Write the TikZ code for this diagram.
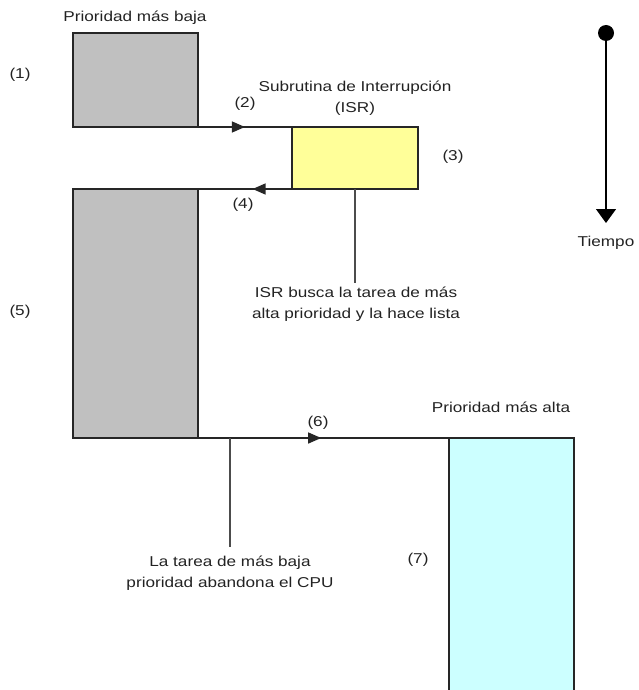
\documentclass[tikz,border=0pt]{standalone}
\usepackage{fontspec}
\setmainfont{Liberation Sans}[FakeStretch=1.2]
\usetikzlibrary{arrows.meta,decorations.markings}
\definecolor{grayfill}{HTML}{C0C0C0}
\definecolor{isrfill}{HTML}{FFFF99}
\definecolor{highfill}{HTML}{CCFFFF}
\definecolor{txt}{HTML}{222222}
\tikzset{
  task/.style={draw=black!85, line width=1.4pt, rectangle, inner sep=0pt, outer sep=0pt, anchor=north west},
  lbl/.style={text=txt, font=\fontsize{14.3}{21}\selectfont, inner sep=0pt, align=center},
  flowline/.style={line width=1.4pt, draw=black!85},
  midarrow/.style={flowline, postaction={decorate}, decoration={markings, mark=at position #1 with {\arrow{Triangle[length=13pt,width=11pt]}}}},
  leader/.style={line width=1.4pt, draw=black!70}
}
\begin{document}
\begin{tikzpicture}[x=1pt,y=-1pt]
\useasboundingbox (0,0) rectangle (639,690);
% tasks
\node[task, fill=grayfill, minimum width=125pt, minimum height=94pt] (low1) at (73,33) {};
\node[task, fill=isrfill, minimum width=126pt, minimum height=62pt] (isr) at (292,127) {};
\node[task, fill=grayfill, minimum width=125pt, minimum height=249pt] (low2) at (73,189) {};
\node[inner sep=0pt, outer sep=0pt, fill=highfill, minimum width=125pt, minimum height=253pt, anchor=north west] (high) at (449,438) {};
\draw[flowline] (high.south west) -- (high.north west) -- (high.north east) -- (high.south east);
% flow connectors
\draw[midarrow=0.785] (low1.south west) -- (isr.north west);
\draw[midarrow=0.18] (isr.south west) -- (low2.north west);
\draw[midarrow=0.66] (low2.south west) -- (high.north west);
% labels
\node[lbl] (tlow) at (135,18) {Prioridad más baja};
\node[lbl] (tisr) at (355,98) {Subrutina de Interrupción\\(ISR)};
\node[lbl] (thigh) at (501,407) {Prioridad más alta};
\node[lbl] (n1) at (20,75) {(1)};
\node[lbl] (n2) at (245,104) {(2)};
\node[lbl] (n3) at (453,157) {(3)};
\node[lbl] (n4) at (243,205) {(4)};
\node[lbl] (n5) at (20,312) {(5)};
\node[lbl] (n6) at (318,423) {(6)};
\node[lbl] (n7) at (418,560) {(7)};
% notes with leaders
\node[lbl, anchor=north, inner sep=0pt] (isrnote) at (356,287) {ISR busca la tarea de más\\alta prioridad y la hace lista};
\draw[leader] (isr.south) -- (isr.south |- 0,283);
\coordinate (leave) at (230,438);
\node[lbl, anchor=north] (lownote) at (230,556) {La tarea de más baja\\prioridad abandona el CPU};
\draw[leader] (leave) -- (230,547);
% time axis
\node[circle, fill=black, minimum size=16pt, inner sep=0pt] (tstart) at (606,33) {};
\coordinate (tend) at (606,223);
\draw[line width=1.4pt, -{Triangle[length=14pt,width=20pt]}] (tstart.center) -- (tend);
\node[lbl] (ttime) at (606,243) {Tiempo};
\end{tikzpicture}
\end{document}
